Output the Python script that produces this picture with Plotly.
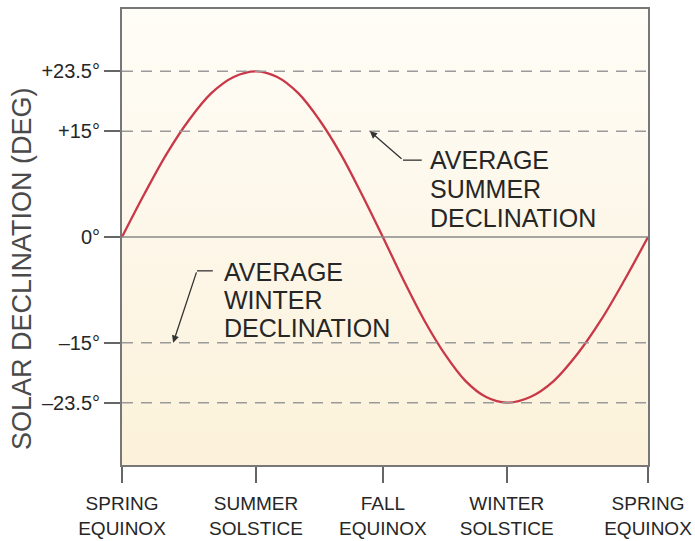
import plotly.graph_objects as go

# ---- data ----
season_labels = ["SPRING<br>EQUINOX", "SUMMER<br>SOLSTICE", "FALL<br>EQUINOX",
                 "WINTER<br>SOLSTICE", "SPRING<br>EQUINOX"]
season_days = [0, 93, 181, 267, 365]

curve_days = [0, 15.5, 31, 46.5, 62, 77.5, 93,
              107.7, 122.3, 137, 151.7, 166.3, 181,
              195.3, 209.7, 224, 238.3, 252.7, 267,
              283.3, 299.7, 316, 332.3, 348.7, 365]
declination = [0, 6.1, 11.8, 16.6, 20.4, 22.7, 23.5,
               22.7, 20.4, 16.6, 11.8, 6.1, 0,
               -6.1, -11.8, -16.6, -20.4, -22.7, -23.5,
               -22.7, -20.4, -16.6, -11.8, -6.1, 0]

ref_levels = [23.5, 15, -15, -23.5]
tick_vals = [23.5, 15, 0, -15, -23.5]
tick_text = ["+23.5°", "+15°", "0°", "–15°", "–23.5°"]

summer_text = ["AVERAGE", "SUMMER", "DECLINATION"]
winter_text = ["AVERAGE", "WINTER", "DECLINATION"]

YR = 32.34
FONT = "Liberation Sans, Arial, Helvetica, sans-serif"
TXT = "#262626"

fig = go.Figure()

# background gradient
fig.add_trace(go.Scatter(
    x=[0, 365, 365, 0, 0], y=[-YR, -YR, YR, YR, -YR],
    mode="lines", line=dict(width=0), fill="toself",
    fillgradient=dict(type="vertical",
                      colorscale=[[0, "#fcf2da"], [0.5, "#fdf7e9"], [1, "#fffdf7"]]),
    hoverinfo="skip", showlegend=False))

shapes = []
for lv in ref_levels:
    shapes.append(dict(type="line", xref="paper", yref="y", x0=0, x1=1, y0=lv, y1=lv,
                       line=dict(color="#9a9a9a", width=1.5, dash="11px,8px"), layer="above"))
shapes.append(dict(type="line", xref="paper", yref="y", x0=0, x1=1, y0=0, y1=0,
                   line=dict(color="#8a8a8a", width=1.6), layer="above"))
# arrow elbows
shapes.append(dict(type="line", xref="x", yref="y", x0=195, x1=208, y0=10.9, y1=10.9,
                   line=dict(color="#333333", width=1.3)))
shapes.append(dict(type="line", xref="x", yref="y", x0=52, x1=63, y0=-4.8, y1=-4.8,
                   line=dict(color="#333333", width=1.3)))

fig.add_trace(go.Scatter(
    x=curve_days, y=declination, mode="lines",
    line=dict(color="#c83848", width=2.3, shape="spline", smoothing=1.0),
    hoverinfo="skip", showlegend=False))

annotations = []
# arrows
annotations.append(dict(x=172, y=15, xref="x", yref="y", ax=195, ay=10.9, axref="x", ayref="y",
                        text="", showarrow=True, arrowhead=2, arrowsize=1.1, arrowwidth=1.3,
                        arrowcolor="#333333", standoff=0))
annotations.append(dict(x=35.5, y=-15, xref="x", yref="y", ax=52, ay=-4.8, axref="x", ayref="y",
                        text="", showarrow=True, arrowhead=2, arrowsize=1.1, arrowwidth=1.3,
                        arrowcolor="#333333", standoff=0))
for t, yy in zip(summer_text, [10.92, 6.88, 2.70]):
    annotations.append(dict(x=212.5, y=yy, xref="x", yref="y", text=t, showarrow=False,
                            xanchor="left", yanchor="middle",
                            font=dict(family=FONT, size=25, color=TXT)))
for t, yy in zip(winter_text, [-4.96, -8.94, -12.91]):
    annotations.append(dict(x=69.2, y=yy, xref="x", yref="y", text=t, showarrow=False,
                            xanchor="left", yanchor="middle",
                            font=dict(family=FONT, size=25, color=TXT)))
# y-axis title
annotations.append(dict(x=-0.19, y=0.43, xref="paper", yref="paper",
                        text="SOLAR DECLINATION (DEG)", textangle=-90, showarrow=False,
                        xanchor="center", yanchor="middle",
                        font=dict(family=FONT, size=27, color="#4a4a4a")))

fig.update_layout(
    width=695, height=541,
    margin=dict(l=122, r=47, t=9, b=76, autoexpand=False),
    paper_bgcolor="white", plot_bgcolor="#fdf7e8",
    shapes=shapes, annotations=annotations,
    showlegend=False,
    xaxis=dict(range=[0, 365], tickmode="array", tickvals=season_days, ticktext=season_labels,
               ticks="outside", ticklen=16, tickwidth=1.6, tickcolor="#666666",
               showgrid=False, zeroline=False, showline=True, mirror=True,
               linecolor="#777777", linewidth=2, automargin=False,
               tickfont=dict(family=FONT, size=19, color=TXT), ticklabelstandoff=4),
    yaxis=dict(range=[-YR, YR], tickmode="array", tickvals=tick_vals, ticktext=tick_text,
               ticks="outside", ticklen=16, tickwidth=1.6, tickcolor="#666666",
               showgrid=False, zeroline=False, showline=True, mirror=True,
               linecolor="#777777", linewidth=2, automargin=False,
               tickfont=dict(family=FONT, size=20, color=TXT)),
)

fig.write_html("out.html", config={"displayModeBar": False},
               post_script="document.body.style.margin='0';document.body.style.overflow='hidden';")
